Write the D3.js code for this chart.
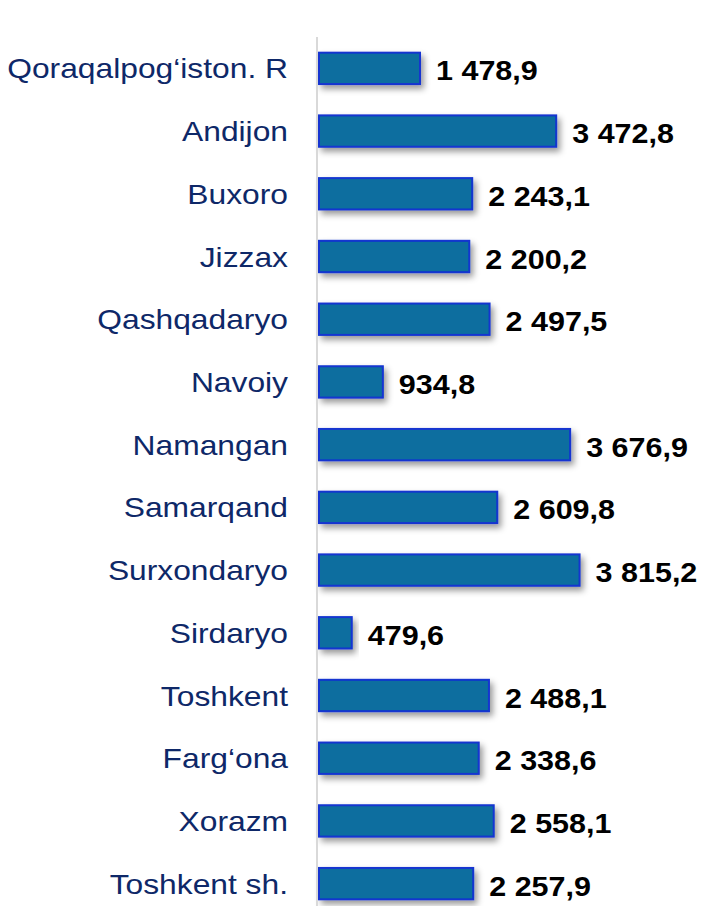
<!DOCTYPE html>
<html>
<head>
<meta charset="utf-8">
<script src="https://cdn.jsdelivr.net/npm/d3@7"></script>
<style>
  body { margin: 0; background: #fff; }
</style>
</head>
<body>
<div id="chart"></div>
<script>
// data
var regions = ["Qoraqalpog\u2018iston. R", "Andijon", "Buxoro", "Jizzax", "Qashqadaryo", "Navoiy",
  "Namangan", "Samarqand", "Surxondaryo", "Sirdaryo", "Toshkent", "Farg\u2018ona", "Xorazm", "Toshkent sh."];
var values = [1478.9, 3472.8, 2243.1, 2200.2, 2497.5, 934.8, 3676.9, 2609.8, 3815.2, 479.6, 2488.1, 2338.6, 2558.1, 2257.9];

function createChart() {
  var width = 703, height = 906,
    x0 = 318;

  var svg = d3.select("#chart").append("svg")
    .attr("width", width)
    .attr("height", height);

  var defs = svg.append("defs");
  var f = defs.append("filter").attr("id", "shadow")
    .attr("x", "-10%").attr("y", "-30%").attr("width", "130%").attr("height", "180%");
  f.append("feDropShadow")
    .attr("dx", 3).attr("dy", 4).attr("stdDeviation", 3)
    .attr("flood-color", "#000").attr("flood-opacity", 0.4);

  var x = d3.scaleLinear()
    .domain([0, 4000])
    .range([x0, x0 + 273.2]);

  var y = d3.scaleBand()
    .domain(regions)
    .range([37, 915])
    .paddingInner(0.5)
    .paddingOuter(0.25);

  var data = regions.map((r, i) => ({ region: r, value: values[i] }));

  // bars
  svg.append("g")
    .selectAll("rect")
    .data(data)
    .enter().append("rect")
    .attr("x", x(0) + 1)
    .attr("y", d => y(d.region))
    .attr("width", d => x(d.value) - x(0))
    .attr("height", y.bandwidth())
    .attr("fill", "#0a6e9f")
    .attr("stroke", "#1335d0")
    .attr("stroke-width", 2)
    .attr("filter", "url(#shadow)");

  // axis line
  svg.append("line")
    .attr("x1", x(0) - 1).attr("x2", x(0) - 1)
    .attr("y1", 37).attr("y2", height)
    .attr("stroke", "#d9d9d9")
    .attr("stroke-width", 2);

  var fmt = v => d3.format(",.1f")(v).replace(",", " ").replace(".", ",");

  // category labels
  svg.append("g")
    .attr("font-family", "'Liberation Sans', Arial, sans-serif")
    .attr("font-size", 28)
    .attr("fill", "#0e2868")
    .attr("text-anchor", "end")
    .selectAll("text")
    .data(data)
    .enter().append("text")
    .attr("transform", d => `translate(288,${y(d.region) + y.bandwidth() / 2 + 10}) scale(1.135,1)`)
    .text(d => d.region);

  // value labels
  svg.append("g")
    .attr("font-family", "'Liberation Sans', Arial, sans-serif")
    .attr("font-size", 28)
    .attr("font-weight", "bold")
    .attr("fill", "#000")
    .selectAll("text")
    .data(data)
    .enter().append("text")
    .attr("transform", d => `translate(${x(d.value) + 17},${y(d.region) + y.bandwidth() / 2 + 12}) scale(1.09,1)`)
    .text(d => fmt(d.value));
}

createChart();
</script>
</body>
</html>
